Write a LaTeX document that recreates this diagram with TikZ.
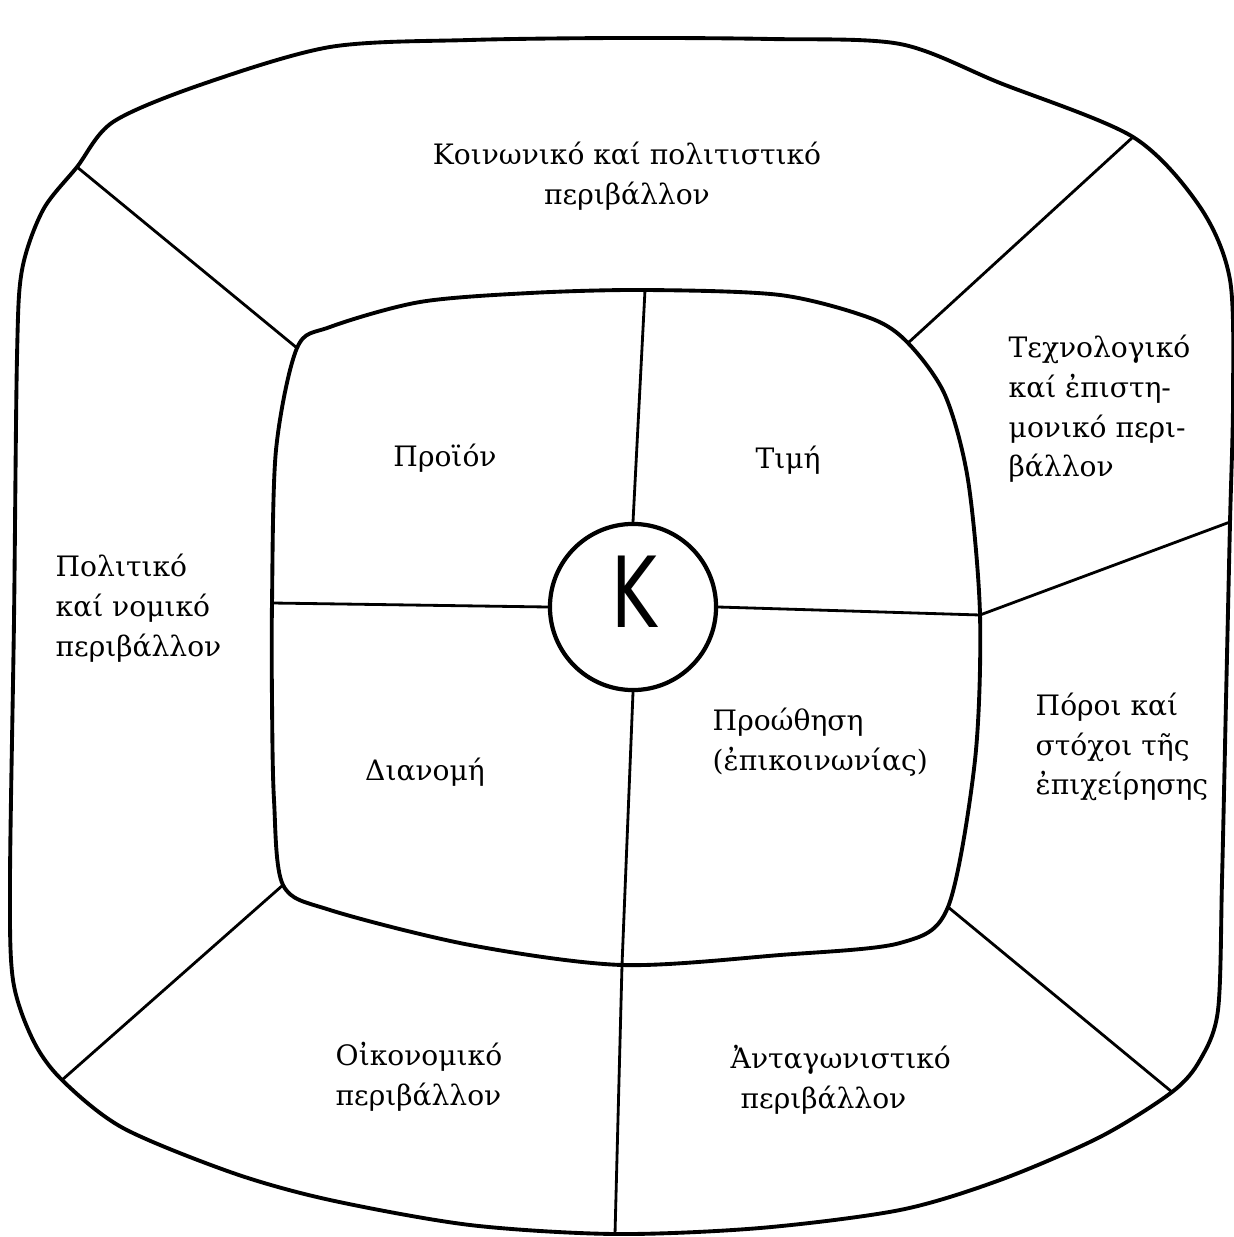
\documentclass[tikz,border=0pt]{standalone}
\usepackage{fontspec}
\setmainfont{DejaVu Serif}
\setsansfont{DejaVu Sans}

\begin{document}
\begin{tikzpicture}[x=0.01cm,y=-0.01cm,
  rim/.style={line width=1.1pt,line join=round},
  seam/.style={line width=0.8pt},
  every node/.style={font=\fontsize{8}{11.3}\selectfont,inner sep=0pt}]
  \useasboundingbox (0,0) rectangle (1234,1237);
  % junctions on the outer rim
  \coordinate (oTL) at (77,167);
  \coordinate (oTR) at (1133,137);
  \coordinate (oR) at (1230,522);
  \coordinate (oBR) at (1172,1092);
  \coordinate (oB) at (615,1234);
  \coordinate (oBL) at (62,1080);
  % junctions on the inner square
  \coordinate (iTL) at (297,348);
  \coordinate (iT) at (645,290);
  \coordinate (iTR) at (908,343);
  \coordinate (iR) at (980,615);
  \coordinate (iBR) at (948,907);
  \coordinate (iB) at (622,965);
  \coordinate (iBL) at (283,885);
  \coordinate (iL) at (272,603);
  % outer rim
  \draw[rim] plot[smooth cycle,tension=0.5] coordinates {
    (620,38) (770,39) (900,44) (1000,83) (oTR) (1200,207) (1230,280)
    (1233,400) (oR) (1226,700) (1222,880) (1218,1010) (1200,1060) (oBR)
    (1100,1137) (1000,1180) (900,1210) (760,1228) (oB) (470,1225)
    (330,1200) (233,1173) (123,1128) (oBL) (33,1040) (13,980) (10,880)
    (14,620) (17,357) (22,270) (43,210) (oTL) (113,122) (200,85)
    (330,47) (470,40)};
  % inner square
  \draw[rim] plot[smooth cycle,tension=0.5] coordinates {
    (iTL) (330,327) (420,302) (530,293) (iT) (780,295) (870,318) (iTR)
    (945,395) (968,480) (iR) (975,760) (iBR) (900,943) (780,955) (iB)
    (470,945) (330,910) (iBL) (274,800) (272,700) (iL) (276,450)};
  % centre
  \node[draw,circle,line width=1.2pt,minimum size=1.66cm] (core) at (633,607) {};
  \node[font=\sffamily\fontsize{18}{18}\selectfont,xscale=1.1,yscale=1.55] (kay) at (634,592) {K};
  \draw[seam] (iL) -- (core.west);
  \draw[seam] (core.east) -- (iR);
  \draw[seam] (iT) -- (core.north);
  \draw[seam] (core.south) -- (iB);
  % spokes of the ring
  \draw[seam] (oTL) -- (iTL);
  \draw[seam] (oTR) -- (iTR);
  \draw[seam] (oR) -- (iR);
  \draw[seam] (oBR) -- (iBR);
  \draw[seam] (oB) -- (iB);
  \draw[seam] (oBL) -- (iBL);
  % labels
  \node[align=center] (social) at (627,176) {Κοινωνικό καί πολιτιστικό\\περιβάλλον};
  \node[anchor=west,align=left] (tech) at (1008,409) {Τεχνολογικό\\καί ἐπιστη-\\μονικό περι-\\βάλλον};
  \node[anchor=west,align=left] (polit) at (55,608) {Πολιτικό\\καί νομικό\\περιβάλλον};
  \node[anchor=west,align=left] (means) at (1035,747) {Πόροι καί\\στόχοι τῆς\\ἐπιχείρησης};
  \node[anchor=west,align=left] (econ) at (335,1077) {Οἰκονομικό\\περιβάλλον};
  \node[anchor=west,align=left] (rival) at (730,1080) {Ἀνταγωνιστικό\\\hspace{1mm}περιβάλλον};
  \node (prod) at (445,458) {Προϊόν};
  \node (price) at (788,460) {Τιμή};
  \node (place) at (425,772) {Διανομή};
  \node[anchor=west,align=left] (promo) at (712,742) {Προώθηση\\(ἐπικοινωνίας)};
\end{tikzpicture}
\end{document}
